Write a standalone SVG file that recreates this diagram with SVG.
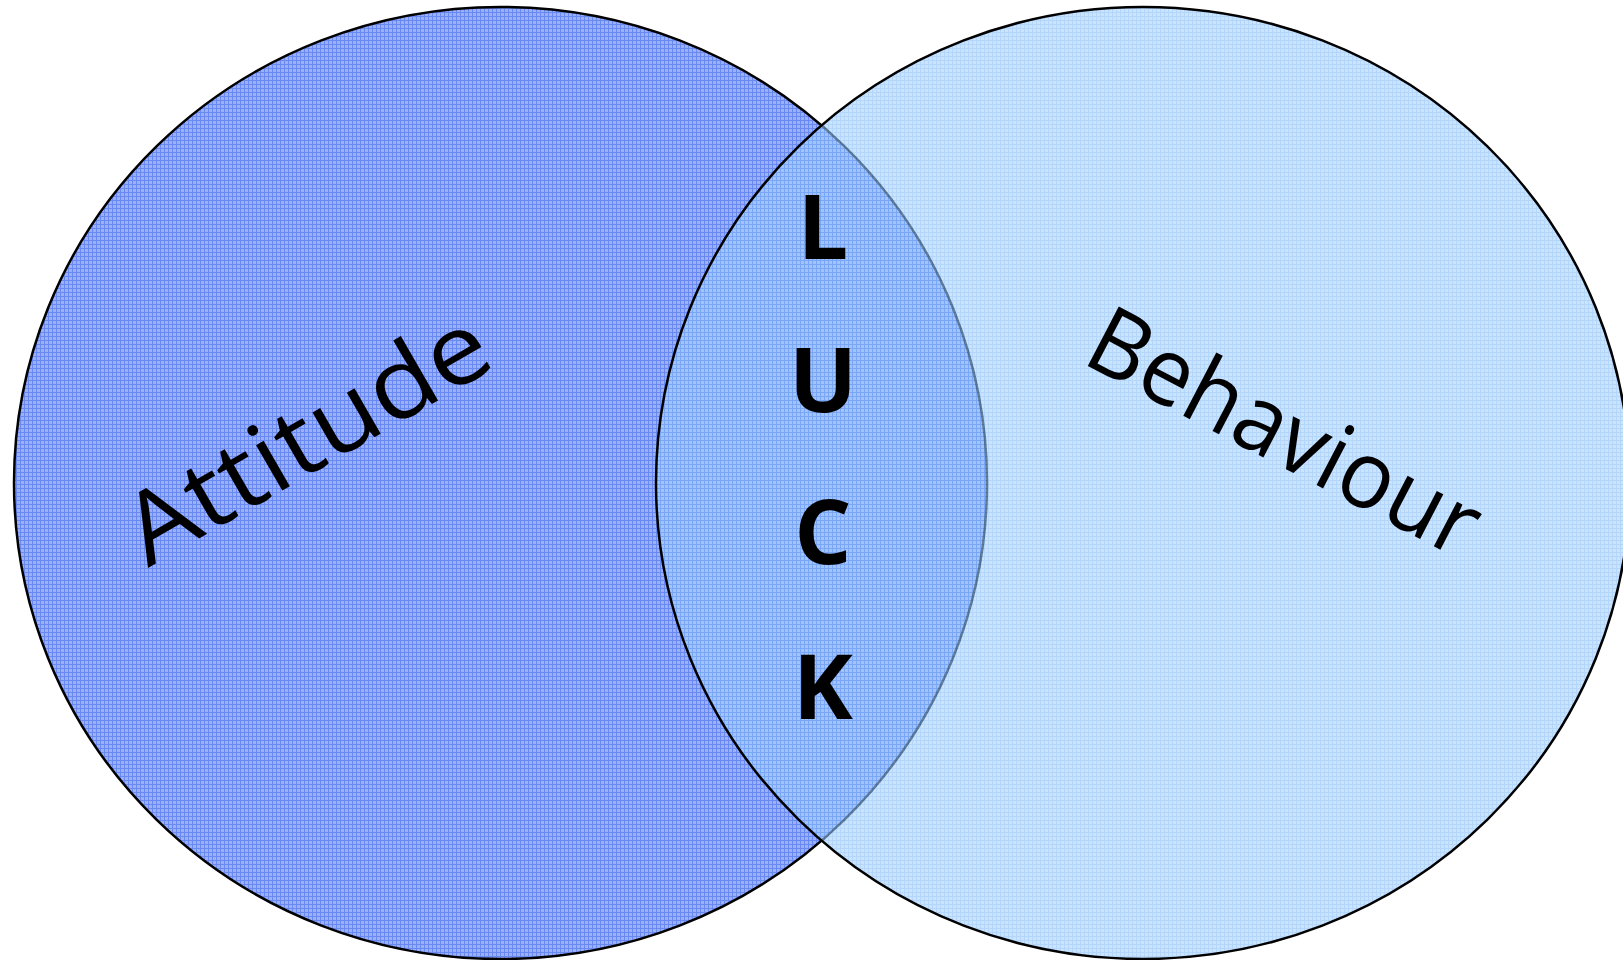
<svg xmlns="http://www.w3.org/2000/svg" width="1623" height="960" viewBox="0 0 1623 960">
  <style>
    .circ { stroke: #000; stroke-width: 2.5; }
    .lbl { font-family: "Comic Sans MS", "Open Sans", "Noto Sans", sans-serif; fill: #000; }
    .luck { font-family: "Comic Sans MS", "Open Sans", "Noto Sans", sans-serif; font-weight: bold; font-size: 90px; fill: #000; text-anchor: middle; }
  </style>
  <defs>
    <pattern id="gridL" width="4" height="4" patternUnits="userSpaceOnUse">
      <rect width="4" height="4" fill="#9cb0f8"/>
      <rect width="4" height="1" fill="#6888f2"/>
      <rect width="1" height="4" fill="#6888f2"/>
    </pattern>
    <pattern id="gridR" width="4" height="4" patternUnits="userSpaceOnUse">
      <rect width="4" height="4" fill="#a6d2fe"/>
      <rect width="4" height="1" fill="#84baf8"/>
      <rect width="1" height="4" fill="#84baf8"/>
    </pattern>
  </defs>
  <rect width="1623" height="960" fill="#ffffff"/>
  <g id="attitude">
    <ellipse class="circ" cx="500.5" cy="483" rx="486.5" ry="476" fill="url(#gridL)"/>
  </g>
  <g id="behaviour">
    <ellipse class="circ" cx="1143" cy="483" rx="487" ry="476" fill="url(#gridR)" fill-opacity="0.6"/>
  </g>
  <g id="connectors"></g>
  <g id="labels">
    <text class="lbl" font-size="98" transform="translate(148,568) rotate(-30)" textLength="405" lengthAdjust="spacingAndGlyphs">Attitude</text>
    <text class="lbl" font-size="94" transform="translate(1080,362) rotate(27.5)" textLength="428" lengthAdjust="spacingAndGlyphs">Behaviour</text>
  </g>
  <g id="luck">
    <text class="luck" x="823" y="259">L</text>
    <text class="luck" x="823" y="412">U</text>
    <text class="luck" x="823" y="564">C</text>
    <text class="luck" x="823" y="719">K</text>
  </g>
</svg>
